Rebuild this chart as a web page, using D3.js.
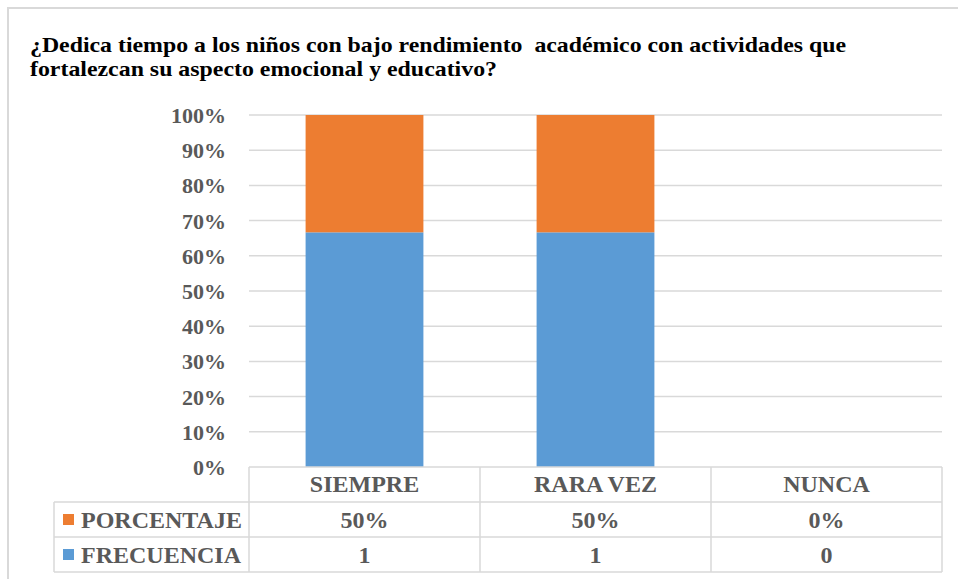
<!DOCTYPE html>
<meta charset="utf-8">
<head>
  <style>
    body { margin: 0; background: white; }
    text { font-family: "Liberation Serif", "Times New Roman", serif; font-weight: bold; }
    .title { font-size: 21px; fill: #000; white-space: pre; }
    .ylab { font-size: 22px; fill: #595959; }
    .cell { font-size: 24px; fill: #595959; }
  </style>
</head>
<script src="https://d3js.org/d3.v7.min.js"></script>
<div id="my_dataviz"></div>
<script>
// chart values
const categories = ["SIEMPRE", "RARA VEZ", "NUNCA"];
const frecuencia = [1, 1, 0];
const porcentaje = [0.5, 0.5, 0];
const yTicks = [0, 0.1, 0.2, 0.3, 0.4, 0.5, 0.6, 0.7, 0.8, 0.9, 1];
const titleLines = [
  "¿Dedica tiempo a los niños con bajo rendimiento  académico con actividades que",
  "fortalezcan su aspecto emocional y educativo?"
];

const WIDTH = 958, HEIGHT = 579;
const BLUE = "#5B9BD5", ORANGE = "#ED7D31", GRID = "#d9d9d9";

// plot area
const LEFT = 249, RIGHT = 942, TOP = 115, BOTTOM = 467;
const ROW_H = 35, TABLE_LEFT = 54;

var svg = d3.select("#my_dataviz")
  .append("svg")
  .attr("width", WIDTH)
  .attr("height", HEIGHT);

// outer chart border (cropped on right and bottom)
svg.append("path")
  .attr("d", `M8,${HEIGHT} V8 H${WIDTH}`)
  .attr("fill", "none")
  .attr("stroke", GRID)
  .attr("stroke-width", 2);

// title - the original is a stretched Times, so fit each line to its width
const titleWidths = [816, 467];
svg.selectAll(".title")
  .data(titleLines)
  .enter()
  .append("text")
  .attr("class", "title")
  .attr("x", 30)
  .attr("y", (d, i) => 52 + i * 24)
  .attr("textLength", (d, i) => titleWidths[i])
  .attr("lengthAdjust", "spacingAndGlyphs")
  .text(d => d);

var x = d3.scaleBand()
  .domain(categories)
  .range([LEFT, RIGHT]);

var y = d3.scaleLinear()
  .domain([0, 1])
  .range([BOTTOM, TOP]);

// gridlines
svg.selectAll(".grid")
  .data(yTicks.slice(1))
  .enter()
  .append("line")
  .attr("x1", LEFT)
  .attr("x2", RIGHT)
  .attr("y1", d => y(d))
  .attr("y2", d => y(d))
  .attr("stroke", GRID)
  .attr("stroke-width", 1.5);

// y axis labels
svg.selectAll(".ylab")
  .data(yTicks)
  .enter()
  .append("text")
  .attr("class", "ylab")
  .attr("x", 226)
  .attr("y", d => y(d) + 8)
  .attr("text-anchor", "end")
  .text(d3.format(".0%"));

// stacked 100% bars
var rows = categories.map((c, i) => ({ cat: c, frecuencia: frecuencia[i], porcentaje: porcentaje[i] }));
var stack = d3.stack()
  .keys(["frecuencia", "porcentaje"])
  .offset(d3.stackOffsetExpand);
var color = d3.scaleOrdinal()
  .domain(["frecuencia", "porcentaje"])
  .range([BLUE, ORANGE]);

var barW = x.bandwidth() * 0.51;
svg.selectAll(".series")
  .data(stack(rows))
  .enter()
  .append("g")
  .attr("fill", d => color(d.key))
  .selectAll("rect")
  .data(d => d)
  .enter()
  .append("rect")
  .attr("x", d => x(d.data.cat) + (x.bandwidth() - barW) / 2)
  .attr("width", barW)
  .attr("y", d => y(d[1] || 0))
  .attr("height", d => Math.max(0, y(d[0] || 0) - y(d[1] || 0)));

// data table
var table = svg.append("g")
  .attr("fill", "none")
  .attr("stroke", GRID)
  .attr("stroke-width", 1.5);

// horizontal lines
table.append("line").attr("x1", LEFT).attr("x2", RIGHT).attr("y1", BOTTOM).attr("y2", BOTTOM);
[1, 2, 3].forEach(r => {
  table.append("line")
    .attr("x1", TABLE_LEFT).attr("x2", RIGHT)
    .attr("y1", BOTTOM + r * ROW_H).attr("y2", BOTTOM + r * ROW_H);
});
// vertical lines
table.append("line").attr("x1", TABLE_LEFT).attr("x2", TABLE_LEFT)
  .attr("y1", BOTTOM + ROW_H).attr("y2", BOTTOM + 3 * ROW_H);
categories.forEach(c => {
  table.append("line").attr("x1", x(c)).attr("x2", x(c))
    .attr("y1", BOTTOM).attr("y2", BOTTOM + 3 * ROW_H);
});
table.append("line").attr("x1", RIGHT).attr("x2", RIGHT)
  .attr("y1", BOTTOM).attr("y2", BOTTOM + 3 * ROW_H);

// header row
svg.selectAll(".head")
  .data(categories)
  .enter()
  .append("text")
  .attr("class", "cell")
  .attr("x", d => x(d) + x.bandwidth() / 2)
  .attr("y", BOTTOM + 25)
  .attr("text-anchor", "middle")
  .text(d => d);

var tableRows = [
  { name: "PORCENTAJE", key: "porcentaje", values: porcentaje, fmt: d3.format(".0%") },
  { name: "FRECUENCIA", key: "frecuencia", values: frecuencia, fmt: d3.format("d") }
];

tableRows.forEach((r, ri) => {
  var base = BOTTOM + (ri + 1) * ROW_H;
  svg.append("rect")
    .attr("x", 63)
    .attr("y", base + 12)
    .attr("width", 11)
    .attr("height", 11)
    .attr("fill", color(r.key));
  svg.append("text")
    .attr("class", "cell")
    .attr("x", 81)
    .attr("y", base + 26)
    .text(r.name);
  svg.selectAll(".v" + ri)
    .data(r.values)
    .enter()
    .append("text")
    .attr("class", "cell")
    .attr("x", (d, i) => x(categories[i]) + x.bandwidth() / 2)
    .attr("y", base + 26)
    .attr("text-anchor", "middle")
    .text(d => r.fmt(d));
});
</script>
